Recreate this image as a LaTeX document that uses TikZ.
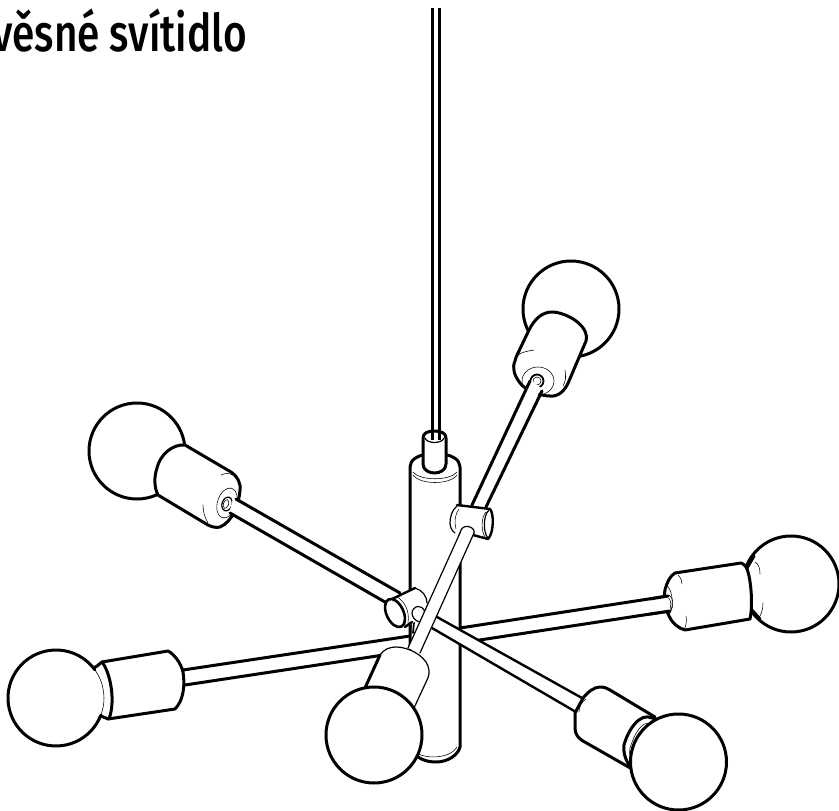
\documentclass[tikz,border=0pt]{standalone}
\usepackage{fontspec}
\setmainfont{Fira Sans}
\newfontfamily\titlefont{Fira Sans Medium}
\tikzset{
  thick line/.style={draw=black,line width=3pt,line cap=round,line join=round,fill=white},
  open line/.style={draw=black,line width=3pt,line cap=round,line join=round},
  mid line/.style={draw=black,line width=1.2pt,line cap=round,line join=round},
  fine line/.style={draw=black,line width=0.55pt,line cap=round},
  mask/.style={fill=white,draw=none},
  title text/.style={font=\titlefont\fontsize{52}{52}\selectfont,inner sep=0pt,anchor=base east,xscale=0.78,transform shape}
}
\begin{document}
\begin{tikzpicture}[x=1pt,y=-1pt]
\useasboundingbox (0,0) rectangle (839,811);
\begin{scope}
\clip (0,0) rectangle (839,811);
\fill[white] (0,0) rectangle (839,811);

% horizontal arms, behind the column
\draw[open line] (183,670) -- (410,636);
\draw[open line] (185,685) -- (410,651);
\draw[open line] (460,628) -- (668,596);
\draw[open line] (460,643) -- (670,611);

% column
\draw[thick line] (410,760) -- (410,467) .. controls (410,460) and (418,455) .. (425,455)
  -- (445,455) .. controls (452,455) and (460,460) .. (460,467) -- (460,747)
  .. controls (458,755) and (448,762) .. (436,762) .. controls (425,762) and (417,758) .. (410,750);
\draw[fine line] (413,472) .. controls (420,481) and (450,481) .. (457,472);
\draw[fine line] (413,475) .. controls (420,485) and (450,485) .. (457,475);
\draw[fine line] (417,753) .. controls (425,759) and (450,759) .. (457,747);

% ferrule and cord
\draw[thick line] (423,438) .. controls (423,433) and (428,431) .. (434,431)
  .. controls (441,431) and (446,433) .. (446,438) -- (446,464)
  .. controls (446,470) and (440,473) .. (434.5,473) .. controls (429,473) and (423,470) .. (423,464) -- cycle;
\draw[mid line] (425,438) .. controls (427,444) and (442,444) .. (444,438);
\draw[open line,line cap=butt] (432.5,8) -- (432.5,440);
\draw[open line,line cap=butt] (439.5,8) -- (439.5,440);

% upper right lamp
\draw[thick line] (571,309) circle[radius=48];
\draw[thick line] (529,330) .. controls (535,318) and (543,312) .. (552,312)
  .. controls (565,312) and (590,325) .. (586,341) -- (569,381)
  .. controls (565,391) and (558,397) .. (550,396) .. controls (540,396) and (525,390) .. (520,383)
  .. controls (514,375) and (512,368) .. (515,361) .. controls (516,357) and (517,355) .. (518,353) -- cycle;
\draw[fine line] (518,355) .. controls (522,352) and (528,351) .. (534,350);
\draw[fine line] (565,370) .. controls (566,376) and (566,381) .. (563,386);
\draw[fine line] (538,381) ellipse[x radius=16,y radius=14];
\draw[mid line,line width=1.8pt] (537,381) circle[radius=6.5];
\draw[fine line] (537,381) circle[radius=4];
\fill[white] (472,505) -- (531,380) -- (541,388) -- (486,507) -- cycle;
\draw[open line] (472,505) -- (530,381);
\draw[open line] (486,507) -- (542,391);

% knuckle on the column
\path[mask] (457,505) -- (490,509) -- (494,523) -- (488,539) -- (455,533) -- (450,520) -- cycle;
\draw[mid line] (457,506) .. controls (452,510) and (450,517) .. (450,523) .. controls (450,527) and (452,531) .. (455,533);
\draw[open line,line width=2.4pt] (457,505) -- (490,509);
\draw[open line,line width=2.4pt] (473,535) -- (488,539);
\draw[open line,line width=2.4pt] (490,509) .. controls (494,513) and (494,533) .. (488,539);
\draw[mid line] (489,510) .. controls (483,515) and (483,533) .. (488,538);
\draw[fine line] (486,512) .. controls (481,517) and (481,531) .. (485,537);
\draw[fine line] (459,509) .. controls (455,514) and (454,522) .. (456,529);

% upper left lamp
\draw[thick line] (137,451) circle[radius=48];
\draw[thick line] (185,445) -- (231,472) .. controls (238,477) and (241,484) .. (240,490)
  .. controls (239,505) and (232,522) .. (220,527) .. controls (216,528) and (212,527) .. (208,525)
  -- (158,495) .. controls (154,487) and (154,477) .. (157,468) .. controls (160,455) and (172,444) .. (185,445) -- cycle;
\draw[fine line] (221,475) .. controls (225,473) and (229,473) .. (233,475);
\draw[fine line] (203,505) .. controls (203,512) and (205,518) .. (208,523);
\draw[fine line,rotate around={-18:(227,503)}] (227,503) ellipse[x radius=9.5,y radius=15.5];
\draw[mid line,rotate around={-18:(227,504)}] (227,504) ellipse[x radius=5,y radius=7];
\draw[fine line,rotate around={-18:(226,504)}] (226,504) ellipse[x radius=2.6,y radius=4.5];
\fill[white] (233,499) -- (400,593) -- (385,602) -- (229,513) -- cycle;
\draw[open line] (236,499) -- (400,593);
\draw[open line] (230,513) -- (385,602);

% lower right arm
\fill[white] (418,607) -- (582,698) -- (576,712) -- (413,618) -- cycle;
\draw[open line,line width=2.4pt] (437,617) -- (582,698);
\draw[open line,line width=2.4pt] (432,628) -- (576,712);

% knuckle at the column foot
\draw[open line,line width=1.8pt] (411,622) -- (410,636);
\draw[open line,line width=1.8pt] (414,622) -- (413,633);
\path[mask] (390,600) -- (415,588) -- (425,596) -- (428,606) -- (424,616) -- (405,628) -- cycle;
\draw[open line,line width=2.4pt] (390,600) -- (415,588);
\draw[mid line] (415,588) .. controls (422,590) and (427,596) .. (427,603);
\draw[open line,line width=2.4pt] (405,627) -- (412,622);
\draw[mid line,fill=white] (418,606.5) .. controls (424,606.5) and (426,612) .. (424,616) -- (420,622) .. controls (415,621) and (412,617) .. (412,613) .. controls (412,610) and (415,606.5) .. (418,606.5) -- cycle;
\draw[thick line,line width=2.6pt,rotate around={25:(395,613)}] (395,613) ellipse[x radius=8.5,y radius=15];
\draw[fine line] (392,598) .. controls (400,603) and (407,612) .. (405,625);
\draw[fine line] (396,596) .. controls (404,601) and (410,610) .. (408,623);

% front arm
\fill[white] (460,533) -- (408,648) -- (420,653) -- (474,533) -- (467,526) -- cycle;
\draw[mid line,fill=white] (460,533) .. controls (461,528) and (464,526) .. (468,526.5) .. controls (472,527) and (475,530) .. (474,533);
\draw[mid line] (460,533) -- (408,648);
\draw[mid line] (474,533) -- (420,653);

% front lamp
\draw[mid line,fill=white] (380,655) .. controls (384,649) and (390,647) .. (396,647)
  .. controls (408,647) and (424,655) .. (428,666) .. controls (430,672) and (429,676) .. (427,680)
  -- (414,708) -- (365,687) -- cycle;
\draw[open line] (380,655) -- (365,688);
\draw[thick line] (374,735) circle[radius=48];

% lower right lamp
\draw[thick line] (583,698) .. controls (588,692) and (594,687) .. (600,687)
  .. controls (604,687) and (607,688) .. (610,690) -- (655,717) -- (632,769) -- (583,741)
  .. controls (578,738) and (575,734) .. (575,728) -- (575,713) -- cycle;
\draw[fine line] (577,712) .. controls (577,706) and (580,701) .. (584,698);
\draw[fine line] (579,712) .. controls (579,706) and (582,702) .. (586,699);
\draw[open line] (652,718) .. controls (640,712) and (628,730) .. (624,745) .. controls (623,753) and (626,762) .. (631,767);
\draw[fine line] (650,724) .. controls (642,720) and (634,735) .. (630,748) .. controls (629,753) and (630,758) .. (632,762);
\draw[thick line] (678.5,762) circle[radius=48];

% right lamp
\draw[thick line] (791,584) circle[radius=48];
\draw[open line] (747,568) -- (754,556);
\draw[open line] (751,609) -- (760,619);
\draw[thick line] (675,573) -- (741,563) .. controls (745,564) and (747,568) .. (748,572)
  .. controls (751,582) and (753,605) .. (750,619) -- (685,630)
  .. controls (678,628) and (672,623) .. (669,616) .. controls (664,606) and (664,595) .. (665,590)
  .. controls (667,582) and (670,576) .. (675,573) -- cycle;
\draw[fine line] (755,562) .. controls (759,564) and (760,569) .. (760,574);
\draw[fine line] (763,603) .. controls (763,608) and (762,612) .. (760,616);
\draw[fine line] (678,575) .. controls (681,578) and (682,581) .. (682,584);
\draw[fine line] (686,616) .. controls (687,621) and (686,626) .. (684,630);
\draw[fine line] (666,585) .. controls (674,590) and (674,612) .. (668,615);
\draw[fine line] (669,595) .. controls (674,598) and (674,608) .. (670,611);
\draw[fine line] (667,597) .. controls (672,599) and (672,608) .. (668,612);
\fill[white] (650,599) -- (668,596.5) -- (670,610.5) -- (650,613) -- cycle;
\draw[open line] (650,599) -- (668,596);
\draw[open line] (650,614) -- (670,611);

% left lamp
\draw[thick line] (102,662) -- (168,651) .. controls (174,654) and (181,663) .. (183,672)
  .. controls (185,684) and (184,700) .. (175,709) -- (108,719)
  .. controls (104,717) and (100,716) .. (98,714) -- (92,668) .. controls (96,668) and (99,664) .. (102,662) -- cycle;
\draw[open line] (102,662) .. controls (110,672) and (116,700) .. (109,719);
\path[mask] (56,698) circle[radius=47];
\draw[open line] ([shift={(56,698)}]21:48) arc[start angle=21,end angle=324,radius=48];
\draw[fine line] ([shift={(56,698)}]-36:48) arc[start angle=-36,end angle=21,radius=48];
\end{scope}

\node[title text] (title) at (247,51) {věsné svítidlo};
\end{tikzpicture}
\end{document}
